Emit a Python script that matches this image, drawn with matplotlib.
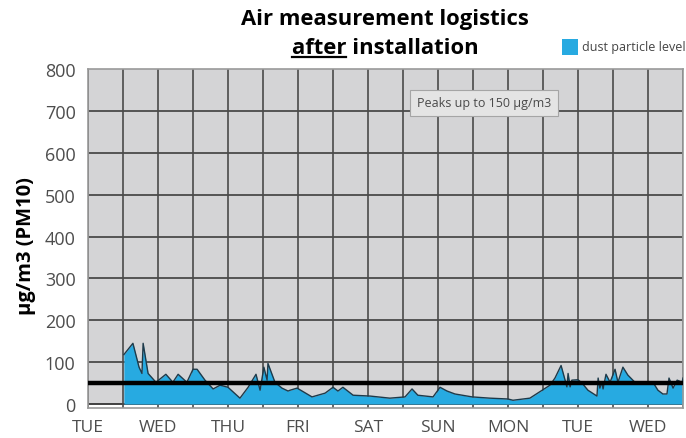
import matplotlib
matplotlib.use("Agg")
import matplotlib.pyplot as plt
import numpy as np

# ---- data (hours since Tuesday 00:00, µg/m3) ----
hours = [12.3, 15.4, 17.5, 18.5, 18.9, 20.6, 23.3, 26.7, 29.1, 30.9, 33.9, 36.0, 37.4,
         40.1, 42.9, 45.3, 48.0, 52.1, 54.9, 57.6, 59.0, 60.3, 61.4, 61.7, 64.1, 66.5,
         68.6, 69.3, 71.7, 76.8, 81.3, 84.0, 85.7, 87.4, 90.9, 96.7, 103.5, 108.7, 111.1,
         113.1, 118.3, 120.7, 123.1, 125.8, 131.7, 137.8, 144.0, 145.7, 151.5, 158.4,
         160.1, 162.2, 164.2, 164.6, 165.3, 165.9, 168.0, 169.4, 171.4, 174.5, 174.9,
         175.5, 176.2, 176.6, 177.6, 179.0, 180.7, 181.7, 183.4, 185.1, 187.5, 193.7,
         195.4, 197.1, 198.5, 199.2, 200.6, 202.0, 203.7, 204.0]
dust = [118, 145, 88, 73, 145, 73, 52, 71, 52, 71, 52, 83, 83,
        57, 36, 45, 40, 14, 40, 71, 33, 88, 57, 97, 52, 38,
        31, 33, 38, 17, 26, 40, 31, 40, 21, 19, 14, 17, 36,
        21, 17, 40, 31, 24, 17, 14, 12, 9, 14, 45,
        62, 92, 41, 73, 41, 57, 58, 50, 33, 19, 62,
        38, 52, 36, 71, 52, 83, 52, 88, 69, 52, 52,
        33, 24, 24, 62, 38, 57, 52, 62]
limit_value = 50
day_labels = ["TUE", "WED", "THU", "FRI", "SAT", "SUN", "MON", "TUE", "WED"]
y_ticks = [0, 100, 200, 300, 400, 500, 600, 700, 800]

W, H = 686, 439
fig = plt.figure(figsize=(W / 100, H / 100), dpi=100)
left, right, top, bottom = 88, 683, 70, 409
ax = fig.add_axes([left / W, 1 - bottom / H, (right - left) / W, (bottom - top) / H])

font = "Open Sans"
ax.set_xlim(0, 204)
ax.set_ylim(-9.5, 800)
ax.set_facecolor("#d4d4d6")
ax.axhspan(-9.5, 0, color="white", zorder=0.5)

# grid
for yv in y_ticks[1:-1]:
    ax.axhline(yv, color="#4a4a4a", lw=1.3, zorder=1)
ax.axhline(0, color="#333333", lw=1.3, zorder=1)
for xv in np.arange(0, 204.1, 12):
    ax.axvline(xv, color="#4a4a4a", lw=1.2, zorder=1)

# data
ax.fill_between(hours, 0, dust, color="#27aae1", zorder=2, lw=0)
ax.plot(hours, dust, color="#1e3a4a", lw=1.0, zorder=3)
ax.axhline(limit_value, color="black", lw=3.2, zorder=4)

for s in ax.spines.values():
    s.set_color("#9a9a9a")
    s.set_linewidth(1.2)

ax.set_xticks(np.arange(0, 193, 24))
ax.set_xticklabels(day_labels, family=font, fontsize=12.5, color="#4d4d4d")
ax.set_yticks(y_ticks)
ax.set_yticklabels([str(v) for v in y_ticks], family=font, fontsize=13, color="#4d4d4d")
ax.tick_params(length=0)
ax.tick_params(axis="y", pad=9)
ax.tick_params(axis="x", pad=8)

fig.text(26 / W, 1 - 246 / H, "µg/m3 (PM10)", family=font, fontweight="bold", fontsize=14.5,
         color="black", rotation=90, ha="center", va="center")

# annotation box
ax.text(135.9, 719, "Peaks up to 150 µg/m3", family=font, fontsize=9, color="#4a4a4a",
        ha="center", va="center", zorder=6,
        bbox=dict(boxstyle="square,pad=0.55", fc="#e4e4e4", ec="#a5a5a5", lw=0.8))

# title
fig.text(385 / W, 1 - 20 / H, "Air measurement logistics", family=font, fontweight="bold",
         fontsize=15.8, ha="center", va="center")
t2 = fig.text(385 / W, 1 - 48 / H, "after installation", family=font, fontweight="bold",
              fontsize=15.8, ha="center", va="center")
fig.canvas.draw()
r = fig.canvas.get_renderer()
bb = t2.get_window_extent(r)
tmp = fig.text(0, 0, "after", family=font, fontweight="bold", fontsize=15.8)
wb = tmp.get_window_extent(r)
tmp.remove()
x0 = bb.x0 / W
x1 = (bb.x0 + wb.width) / W
yline = (bb.y0 + 1) / H
fig.add_artist(plt.Line2D([x0, x1], [yline, yline], transform=fig.transFigure, color="black", lw=1.6))

# legend
fig.patches.append(plt.Rectangle((562 / W, 1 - 56 / H), 16 / W, 16 / H, transform=fig.transFigure,
                                 fc="#27aae1", ec="none"))
fig.text(582 / W, 1 - 48 / H, "dust particle level", family=font, fontsize=9, color="#444444",
         ha="left", va="center")

fig.savefig("out.png", dpi=100)
